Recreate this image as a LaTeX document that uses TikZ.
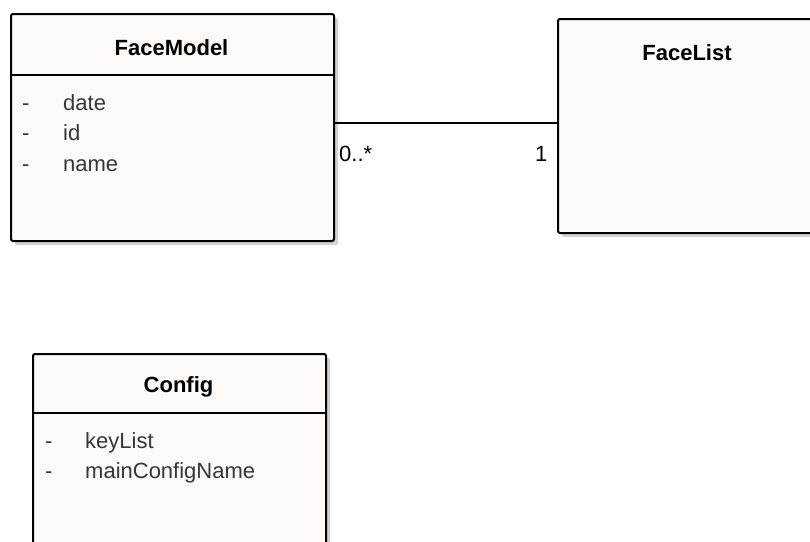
\documentclass[tikz,border=0pt]{standalone}
\usepackage{fontspec}
\setmainfont{Liberation Sans}
\usetikzlibrary{shadows}
\definecolor{boxfill}{RGB}{252,249,246}
\definecolor{attrgray}{RGB}{55,55,55}
\definecolor{shadowgray}{RGB}{210,210,210}
\tikzset{
  classbox/.style={draw=black, line width=2pt, fill=boxfill, rounded corners=2pt,
    anchor=north west, inner sep=0pt,
    drop shadow={shadow xshift=4pt, shadow yshift=-4pt, fill=shadowgray, opacity=1}},
  divider/.style={line width=1.8pt},
  title/.style={font=\fontsize{22}{26}\selectfont\bfseries, text=black, inner sep=0pt},
  attr/.style={font=\fontsize{22}{26}\selectfont, text=attrgray, anchor=base west, inner sep=0pt},
  mult/.style={font=\fontsize{22}{26}\selectfont, text=black, inner sep=0pt, anchor=base west},
  assoc/.style={line width=1.8pt}
}
\begin{document}
\begin{tikzpicture}[x=1pt,y=-1pt]
\useasboundingbox (0,0) rectangle (810,541);
\clip (0,0) rectangle (810,541);
% FaceModel
\node[classbox, minimum width=323pt, minimum height=227pt] (fm) at (10,13) {};
\draw[divider] (10,75) -- (333,75);
\node[title] (fmt) at (171.5,48) {FaceModel};
\node[attr] (fm1d) at (22,110) {-};
\node[attr] (fm1) at (63,110) {date};
\node[attr] (fm2d) at (22,140) {-};
\node[attr] (fm2) at (63,140) {id};
\node[attr] (fm3d) at (22,171) {-};
\node[attr] (fm3) at (63,171) {name};
% FaceList
\node[classbox, minimum width=262pt, minimum height=214pt] (fl) at (557,18) {};
\node[title] (flt) at (687,53) {FaceList};
% association
\coordinate (ay) at (0,123);
\draw[assoc] (fm.east |- ay) -- (fl.west |- ay);
\node[mult] (m1) at (339,161) {0..*};
\node[mult] (m2) at (535,161) {1};
% Config
\node[classbox, minimum width=293pt, minimum height=220pt] (cf) at (32,353) {};
\draw[divider] (32,413) -- (325,413);
\node[title] (cft) at (178.5,387) {Config};
\node[attr] (cf1d) at (45,448) {-};
\node[attr] (cf1) at (85,448) {keyList};
\node[attr] (cf2d) at (45,478) {-};
\node[attr] (cf2) at (85,478) {mainConfigName};
\end{tikzpicture}
\end{document}
